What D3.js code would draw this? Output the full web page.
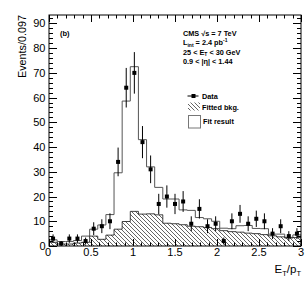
<!DOCTYPE html>
<html lang="en">
<head>
    <meta charset="UTF-8">
    <title>E_T/p_T fit</title>
    <style>
        body { margin: 0; background: #fff; }
        svg { font-family: "Liberation Sans", Arial, sans-serif; }
        .tick-label { font-size: 11px; fill: #000; }
        .title { font-size: 10.8px; fill: #000; }
        .info { font-size: 7.3px; font-weight: bold; fill: #000; }
    </style>
</head>
<body>
    <script src="https://d3js.org/d3.v7.min.js"></script>
    <script>
        // 31 bins of 0.097 between 0 and 3
        const nBins = 31;
        const dataCounts = [3, 1, 3, 3, 2, 7, 8, 10, 34, 64, 70, 42, 31, 17, 20, 17, 18, 9, 15, 8, 9, 2, 10, 13, 9, 11, 10, 5, 8, 4, 5];
        const dataErr = [1.7, 1, 1.7, 1.7, 1.4, 2.6, 2.8, 3.2, 5.8, 8, 8.4, 6.5, 5.6, 4.1, 4.5, 4.1, 4.2, 3, 3.9, 2.8, 3, 1.4, 3.2, 3.6, 3, 3.3, 3.2, 2.2, 2.8, 2, 2.2];
        const fitTotal = [2.5, 1.8, 1.8, 2.2, 4, 6.8, 8.5, 12.7, 29.6, 58.6, 72.5, 43, 32, 23.7, 19, 19, 14.6, 14.4, 11.5, 11, 10, 7.2, 7, 8.2, 8.3, 7.1, 7, 4.8, 4.8, 3.5, 4.5];
        const fitBkg = [1.5, 0.8, 0.8, 1.2, 1.5, 4, 2.7, 4.4, 6.8, 9.9, 14, 12.9, 13, 12.6, 9.2, 9, 8.6, 8, 7.8, 7.5, 7, 6.2, 5.8, 5.6, 5.2, 5, 4.6, 4.1, 3.7, 3.2, 3.4];
        const xTicks = [0, 0.5, 1, 1.5, 2, 2.5, 3];
        const yTicks = [0, 10, 20, 30, 40, 50, 60, 70, 80, 90];
        const infoLines = ["CMS √s = 7 TeV", "L_int = 2.4 pb^-1", "25 < E_T < 30 GeV", "0.9 < |η| < 1.44"];

        const width = 307, height = 283;
        const padL = 49, padR = 301, padT = 15, padB = 246;

        const svg = d3.select("body").append("svg")
            .attr("width", width)
            .attr("height", height);

        const x = d3.scaleLinear().domain([0, 3]).range([padL, padR]);
        const y = d3.scaleLinear().domain([0, 93.4]).range([padB, padT]);
        const bw = 3 / nBins;

        // hatch pattern for the background
        const defs = svg.append("defs");
        defs.append("pattern")
            .attr("id", "hatch")
            .attr("patternUnits", "userSpaceOnUse")
            .attr("width", 4)
            .attr("height", 4)
            .append("path")
            .attr("d", "M-1,-1 L5,5 M-1,3 L1,5 M3,-1 L5,1")
            .attr("stroke", "#222")
            .attr("stroke-width", 0.7);

        function stepPoints(vals) {
            const pts = [];
            vals.forEach((v, i) => {
                pts.push([i * bw, v]);
                pts.push([(i + 1) * bw, v]);
            });
            return pts;
        }

        const clip = defs.append("clipPath").attr("id", "frame-clip");
        clip.append("rect").attr("x", padL).attr("y", padT).attr("width", padR - padL).attr("height", padB - padT);

        const plot = svg.append("g").attr("clip-path", "url(#frame-clip)");

        // fit result (total)
        const totalPts = [[0, 0]].concat(stepPoints(fitTotal), [[3, 0]]);
        plot.append("path")
            .attr("d", d3.line().x(d => x(d[0])).y(d => y(d[1]))(totalPts))
            .attr("fill", "#fff")
            .attr("stroke", "#555")
            .attr("stroke-width", 1);

        // fitted background
        const bkgPts = stepPoints(fitBkg);
        plot.append("path")
            .attr("d", d3.area().x(d => x(d[0])).y0(y(0)).y1(d => y(d[1]))(bkgPts))
            .attr("fill", "url(#hatch)");
        plot.append("path")
            .attr("d", d3.line().x(d => x(d[0])).y(d => y(d[1]))(bkgPts))
            .attr("fill", "none")
            .attr("stroke", "#111")
            .attr("stroke-width", 0.8);

        // data points
        const pts = dataCounts.map((v, i) => ({ cx: (i + 0.5) * bw, v: v, e: dataErr[i] }));
        const dg = plot.append("g");
        dg.selectAll("line")
            .data(pts)
            .enter().append("line")
            .attr("x1", d => x(d.cx))
            .attr("x2", d => x(d.cx))
            .attr("y1", d => y(d.v - d.e))
            .attr("y2", d => y(d.v + d.e))
            .attr("stroke", "#000")
            .attr("stroke-width", 1);
        dg.selectAll("rect")
            .data(pts)
            .enter().append("rect")
            .attr("x", d => x(d.cx) - 2)
            .attr("y", d => y(d.v) - 2)
            .attr("width", 4)
            .attr("height", 4)
            .attr("fill", "#000");

        // frame and ticks
        const axes = svg.append("g").attr("stroke", "#000").attr("stroke-width", 1);
        axes.append("rect")
            .attr("x", padL).attr("y", padT)
            .attr("width", padR - padL).attr("height", padB - padT)
            .attr("fill", "none");

        const xMinor = d3.range(0, 3.001, 0.1);
        xMinor.forEach(t => {
            const major = xTicks.some(m => Math.abs(m - t) < 1e-6);
            const len = major ? 7 : 3.5;
            const px = Math.round(x(t)) + 0.5;
            axes.append("line").attr("x1", px).attr("x2", px).attr("y1", padB).attr("y2", padB - len);
            axes.append("line").attr("x1", px).attr("x2", px).attr("y1", padT).attr("y2", padT + len);
        });

        const yMinor = d3.range(0, 93, 2);
        yMinor.forEach(t => {
            const major = t % 10 === 0;
            const len = major ? 8 : 4;
            const py = Math.round(y(t)) + 0.5;
            axes.append("line").attr("x1", padL).attr("x2", padL + len).attr("y1", py).attr("y2", py);
            axes.append("line").attr("x1", padR).attr("x2", padR - len).attr("y1", py).attr("y2", py);
        });

        // tick labels
        svg.append("g").selectAll("text")
            .data(xTicks)
            .enter().append("text")
            .attr("class", "tick-label")
            .attr("x", d => x(d) - (d === 0 ? 1 : 0))
            .attr("y", 256)
            .attr("text-anchor", "middle")
            .text(d => d);

        svg.append("g").selectAll("text")
            .data(yTicks)
            .enter().append("text")
            .attr("class", "tick-label")
            .attr("x", 45.5)
            .attr("y", d => y(d) + 4)
            .attr("text-anchor", "end")
            .text(d => d);

        // axis titles
        svg.append("text")
            .attr("class", "title")
            .attr("transform", "translate(25.5," + padT + ") rotate(-90)")
            .attr("text-anchor", "end")
            .text("Events/0.097");

        const xt = svg.append("text")
            .attr("class", "title")
            .attr("x", 301)
            .attr("y", 273)
            .attr("text-anchor", "end")
            .style("font-size", "11.5px");
        xt.append("tspan").text("E");
        xt.append("tspan").attr("dy", 2.5).style("font-size", "7.5px").text("T");
        xt.append("tspan").attr("dy", -2.5).text("/p");
        xt.append("tspan").attr("dy", 2.5).style("font-size", "7.5px").text("T");

        // panel label
        svg.append("text")
            .attr("class", "info")
            .attr("x", 60)
            .attr("y", 36)
            .style("font-size", "7.5px")
            .text("(b)");

        // info block, "_" = subscript, "^" = superscript
        infoLines.forEach((line, i) => {
            const t = svg.append("text")
                .attr("class", "info")
                .attr("x", 183)
                .attr("y", 35.5 + i * 9.5);
            const parts = line.split(/([_^]\S+?)(?=\s|$)/).filter(p => p);
            let back = 0;
            parts.forEach(p => {
                if (p[0] === "_" || p[0] === "^") {
                    const shift = p[0] === "_" ? 1.8 : -2.8;
                    t.append("tspan").attr("dy", shift + back).style("font-size", "5px").text(p.slice(1));
                    back = -shift;
                } else {
                    t.append("tspan").attr("dy", back).text(p);
                    back = 0;
                }
            });
        });

        // legend
        const lg = svg.append("g");
        lg.append("line").attr("x1", 187.5).attr("x2", 198.5).attr("y1", 96).attr("y2", 96)
            .attr("stroke", "#000").attr("stroke-width", 1);
        lg.append("rect").attr("x", 191.5).attr("y", 94).attr("width", 4).attr("height", 4).attr("fill", "#000");
        lg.append("text").attr("class", "info").attr("x", 202).attr("y", 98.5).text("Data");

        lg.append("rect").attr("x", 188).attr("y", 102.5).attr("width", 12).attr("height", 8)
            .attr("fill", "url(#hatch)");
        lg.append("text").attr("class", "info").attr("x", 202).attr("y", 110).text("Fitted bkg.");

        lg.append("rect").attr("x", 188.5).attr("y", 115.5).attr("width", 12).attr("height", 12.5)
            .attr("fill", "#fff").attr("stroke", "#777").attr("stroke-width", 1);
        lg.append("text").attr("class", "info").attr("x", 203).attr("y", 124).text("Fit result");
    </script>
</body>
</html>
